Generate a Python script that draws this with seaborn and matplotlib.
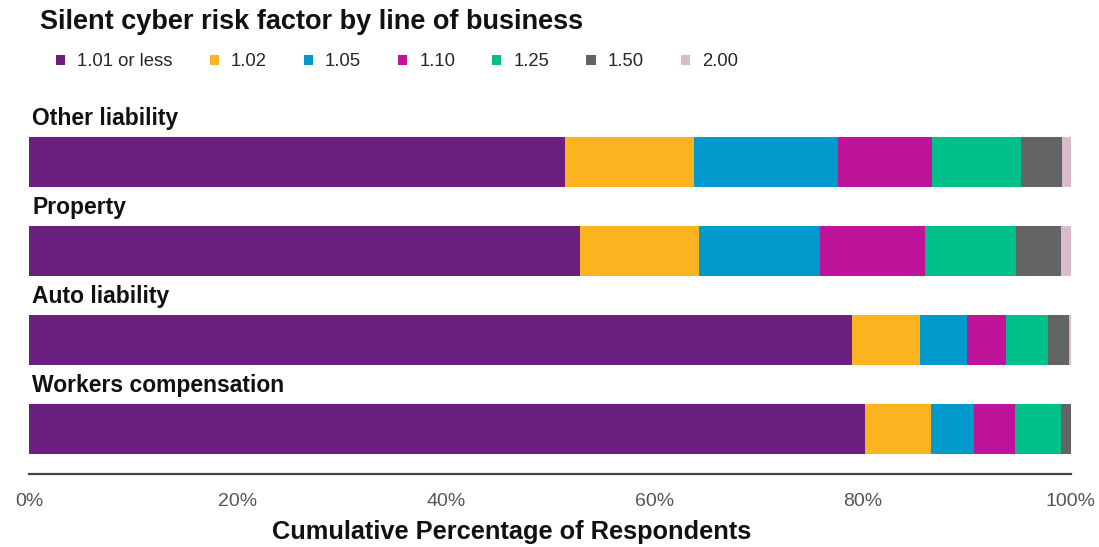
import matplotlib
matplotlib.use("Agg")
import matplotlib.pyplot as plt
import seaborn as sns
import pandas as pd
import numpy as np
from matplotlib.patches import Patch

sns.set_theme(style="white")
plt.rcParams['font.family'] = ['Liberation Sans', 'DejaVu Sans']

# ---- data ----
lines = ["Other liability", "Property", "Auto liability", "Workers compensation"]
factors = ["1.01 or less", "1.02", "1.05", "1.10", "1.25", "1.50", "2.00"]
v_101 = [51.4, 52.9, 79.0, 80.2]
v_102 = [12.4, 11.4, 6.5, 6.4]
v_105 = [13.8, 11.6, 4.5, 4.1]
v_110 = [9.1, 10.1, 3.8, 3.9]
v_125 = [8.5, 8.7, 4.0, 4.4]
v_150 = [3.9, 4.3, 2.0, 1.0]
v_200 = [0.9, 1.0, 0.2, 0.0]
tick_vals = [0, 20, 40, 60, 80, 100]
tick_labels = ["0%", "20%", "40%", "60%", "80%", "100%"]
colors = ["#6B2080", "#FBB41F", "#009ACD", "#BF1399", "#00C08A", "#636466", "#D8BCCC"]

series = [v_101, v_102, v_105, v_110, v_125, v_150, v_200]
df = pd.DataFrame({f: s for f, s in zip(factors, series)}, index=lines)
cum = df.cumsum(axis=1)
long = cum.reset_index().melt(id_vars="index", var_name="factor", value_name="cum")
long = long.rename(columns={"index": "line"})

fig = plt.figure(figsize=(10.99, 5.47), dpi=100)
ax = fig.add_axes([29/1099, 1-474/547, 1042/1099, (474-108.6)/547])

for f, c in reversed(list(zip(factors, colors))):
    sub = long[long["factor"] == f]
    sns.barplot(data=sub, x="cum", y="line", order=lines, color=c,
                orient="h", width=50/89, ax=ax, saturation=1, errorbar=None,
                linewidth=0)

ax.set_xlim(0, 100)
ax.set_ylim(3.506, -0.6)
ax.set_yticks([])
ax.set_ylabel("")
ax.set_xticks(tick_vals)
ax.set_xticklabels(tick_labels, fontsize=14, color="#555555")
ax.tick_params(axis="x", length=0, pad=14)
for s in ["top", "right", "left"]:
    ax.spines[s].set_visible(False)
ax.spines["bottom"].set_color("#444444")
ax.spines["bottom"].set_linewidth(1.6)

for i, name in enumerate(lines):
    ax.text(0.3, i - 0.42, name, fontsize=16.5, fontweight="bold",
            va="baseline", ha="left", color="#111111", clip_on=False)

ax.set_xlabel("Cumulative Percentage of Respondents", fontsize=18.3,
              fontweight="bold", color="#111111")
ax.xaxis.set_label_coords((512-29)/1042, -(520-474)/365.4)

fig.text(40/1099, 1-29/547, "Silent cyber risk factor by line of business",
         fontsize=19.5, fontweight="bold", va="baseline", ha="left", color="#111111")

handles = [Patch(facecolor=c, edgecolor="none", label=f) for f, c in zip(factors, colors)]
fig.legend(handles=handles, loc="center left", bbox_to_anchor=(56/1099, 1-62/547),
           ncol=7, frameon=False, fontsize=13.3, handlelength=0.5, handleheight=0.5,
           handletextpad=0.65, columnspacing=2.0, borderaxespad=0, borderpad=0)

fig.savefig("out.png", dpi=100, facecolor="white")
